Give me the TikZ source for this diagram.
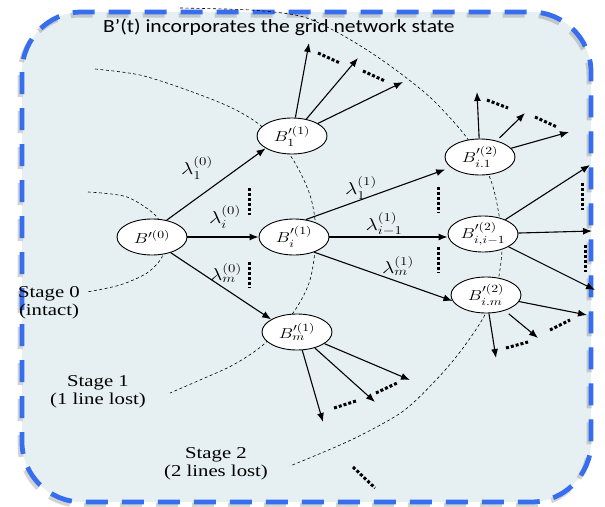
\documentclass[tikz,border=0pt]{standalone}
\usepackage{amsmath}
\usepackage{graphicx}
\usepackage{fontspec}
\setmainfont{Liberation Serif}
\newfontfamily\titlefont{Carlito}
\usepackage{tikz}
\usetikzlibrary{shapes.geometric, positioning, arrows.meta}
\definecolor{panelfill}{RGB}{230,240,243}
\definecolor{panelblue}{RGB}{55,110,240}
\tikzstyle{state} = [ellipse, draw=black, line width=0.9pt, fill=white, minimum width=70pt, minimum height=36pt, inner sep=1pt, font=\fontsize{15.5}{18}\selectfont]
\tikzstyle{arrow} = [line width=1.1pt, -{Latex[length=9pt, width=7pt]}]
\tikzstyle{stagearc} = [line width=0.6pt, dash pattern=on 3pt off 2.5pt]
\tikzstyle{etcmark} = [line width=3pt, dash pattern=on 3pt off 2pt]
\tikzstyle{rate} = [inner sep=1pt, font=\fontsize{17}{20}\selectfont]
\tikzstyle{stagelabel} = [align=center, inner sep=0pt, font=\fontsize{16.6}{18}\selectfont]
\tikzstyle{panel} = [rounded corners=60pt, dash pattern=on 22pt off 14pt]
\def\wide#1{\scalebox{1.25}[1]{#1}}

\begin{document}
\begin{tikzpicture}[x=1pt, y=-1pt]
\useasboundingbox (0,0) rectangle (605,506);

% panel with dashed blue frame
\fill[panelfill, rounded corners=60pt] (22,12) rectangle (591,502);
\draw[panel, gray, opacity=0.35, line width=5pt, xshift=-2pt, yshift=-3pt] (22,12) rectangle (591,502);
\draw[panel, panelblue, line width=4.8pt] (22,12) rectangle (591,502);

\node (title) [anchor=base west, inner sep=0pt, font=\titlefont\fontsize{18.6}{20}\selectfont] at (103,32) {\scalebox{1.16}[1]{B’(t) incorporates the grid network state}};

% stage boundaries
\draw [stagearc] plot[smooth] coordinates {(88,192) (127,197) (157,217) (163,240) (162,257) (147,273) (120,285) (87,292)};
\draw [stagearc] plot[smooth] coordinates {(95,69) (140,75) (187,90) (230,107) (260,125) (290,155) (310,195) (316,235) (310,280) (293,313) (263,345) (233,365) (200,380) (170,393)};
\draw [stagearc] plot[smooth] coordinates {(180,8) (250,10) (300,16) (333,30) (367,50) (400,73) (433,100) (467,138) (490,178) (499,215) (502,250) (496,290) (482,320) (460,352) (436,380) (402,412) (351,440) (290,466)};

% states
\node (b0) [state] at (152,237) {\wide{$B'^{(0)}$}};
\node (b1) [state] at (292,136) {\wide{$B_1^{\prime(1)}$}};
\node (bi) [state] at (294,237) {\wide{$B_i^{\prime(1)}$}};
\node (bm) [state] at (297,332) {\wide{$B_m^{\prime(1)}$}};
\node (b21) [state] at (480,157) {\wide{$B_{i.1}^{\prime(2)}$}};
\node (b22) [state] at (483,234) {\wide{$B_{i,i-1}^{\prime(2)}$}};
\node (b23) [state] at (486,295) {\wide{$B_{i.m}^{\prime(2)}$}};

% stage 0 -> stage 1
\draw [arrow] (b0.49) -- (b1.205);
\draw [arrow] (b0.east) -- (bi.west);
\draw [arrow] (b0.-40) -- (bm.154);
\node (l01) [rate] at (197,168) {\wide{$\lambda_1^{(0)}$}};
\node (l0i) [rate] at (225,217) {\wide{$\lambda_i^{(0)}$}};
\node (l0m) [rate] at (226,273) {\wide{$\lambda_m^{(0)}$}};

% stage 1 -> stage 2
\draw [arrow, shorten >=6pt] (bi.56) -- (b21);
\draw [arrow] (bi.east) -- (bi.east -| b22.west);
\draw [arrow] (bi.-37) -- (b23.190);
\node (l11) [rate] at (361,188) {\wide{$\lambda_1^{(1)}$}};
\node (l1i) [rate] at (384,224) {\wide{$\lambda_{i-1}^{(1)}$}};
\node (l1m) [rate] at (398,266) {\wide{$\lambda_m^{(1)}$}};

% further transitions
\coordinate (t1a) at (309,43);
\coordinate (t1b) at (358,58);
\coordinate (t1c) at (403,82);
\coordinate (tma) at (323,422);
\coordinate (tmb) at (375,402);
\coordinate (tmc) at (410,380);
\coordinate (ta1) at (477,92);
\coordinate (ta2) at (525,113);
\coordinate (ta3) at (569,132);
\coordinate (tb1) at (590,165);
\coordinate (tb2) at (592,231);
\coordinate (tb3) at (595,290);
\coordinate (tc1) at (587,315);
\coordinate (tc2) at (538,338);
\coordinate (tc3) at (496,358);

\draw [arrow] (b1) -- (t1a);
\draw [arrow] (b1) -- (t1b);
\draw [arrow] (b1) -- (t1c);
\draw [arrow] (bm) -- (tma);
\draw [arrow] (bm) -- (tmb);
\draw [arrow] (bm) -- (tmc);
\draw [arrow] (b21) -- (ta1);
\draw [arrow, shorten <=4pt] (b21) -- (ta2);
\draw [arrow] (b21) -- (ta3);
\draw [arrow] (b22) -- (tb1);
\draw [arrow] (b22) -- (tb2);
\draw [arrow] (b22) -- (tb3);
\draw [arrow] (b23) -- (tc1);
\draw [arrow, shorten <=5pt] (b23) -- (tc2);
\draw [arrow] (b23) -- (tc3);

% omitted branches
\draw [etcmark] (249,188) -- (249,215);
\draw [etcmark] (249,262) -- (249,288);
\draw [etcmark] (438,187) -- (438,213);
\draw [etcmark] (438,247) -- (438,273);
\draw [etcmark] (582,183) -- (582,210);
\draw [etcmark] (585,245) -- (585,272);
\draw [etcmark] (318,53) -- (340,63);
\draw [etcmark] (363,71) -- (385,81);
\draw [etcmark] (487,100) -- (508,108);
\draw [etcmark] (535,117) -- (557,127);
\draw [etcmark] (550,330) -- (570,320);
\draw [etcmark] (506,348) -- (528,342);
\draw [etcmark] (334,408) -- (356,401);
\draw [etcmark] (376,393) -- (397,383);
\draw [etcmark] (353,467) -- (375,488);

% stage labels
\node (s0) [stagelabel] at (49,303) {\wide{Stage 0}\\\wide{(intact)}};
\node (s1) [stagelabel] at (98,392) {\wide{Stage 1}\\\wide{(1 line lost)}};
\node (s2) [stagelabel] at (216,464) {\wide{Stage 2}\\\wide{(2 lines lost)}};

\end{tikzpicture}
\end{document}
